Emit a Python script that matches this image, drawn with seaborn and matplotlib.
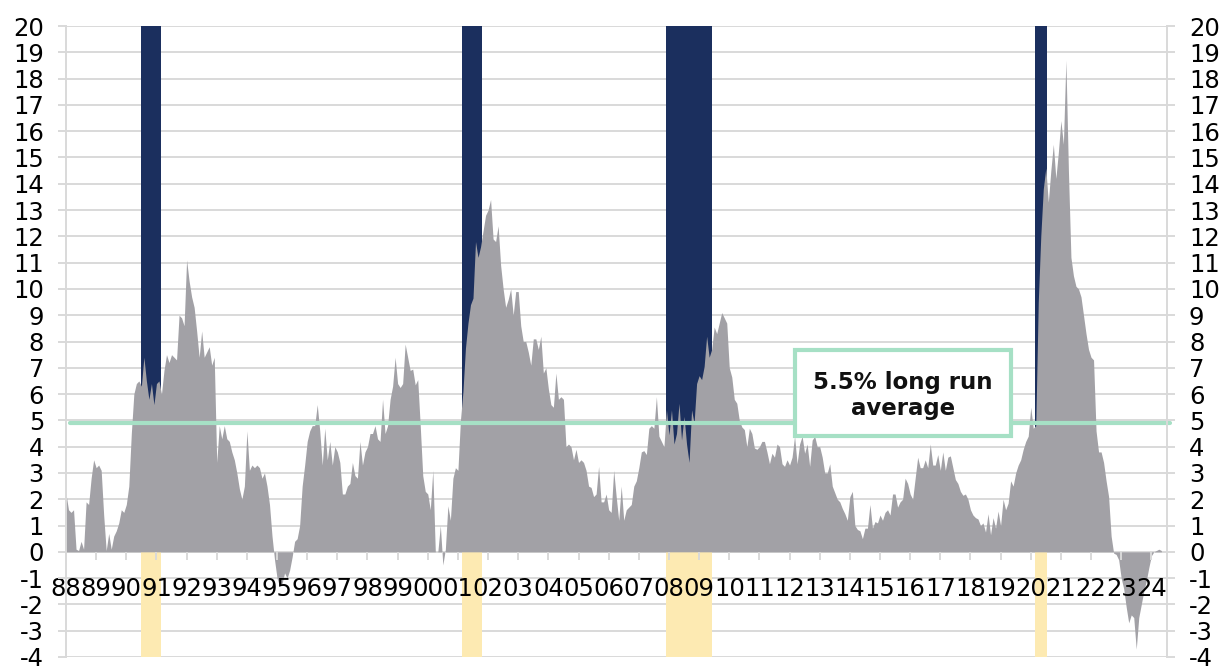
import numpy as np
import pandas as pd
import matplotlib
matplotlib.use("Agg")
import matplotlib.pyplot as plt
from matplotlib.patches import Rectangle
import seaborn as sns

# monthly growth (%), Jan 1988 onwards
growth_1988_1995 = [
    2.2, 1.6, 1.5, 1.6, 0.1, 0.05, 0.4, 0.1, 1.9, 1.8, 2.8, 3.5,
    3.2, 3.3, 3.1, 1.4, 0.05, 0.7, 0.1, 0.6, 0.8, 1.1, 1.6, 1.5,
    1.8, 2.5, 4.5, 6.0, 6.4, 6.5, 6.3, 7.4, 6.5, 5.8, 6.4, 5.6,
    6.4, 6.5, 6.0, 6.9, 7.5, 7.2, 7.5, 7.4, 7.3, 9.0, 8.9, 8.6,
    11.1, 10.3, 9.7, 9.3, 8.4, 7.4, 8.4, 7.4, 7.6, 7.8, 7.1, 7.4,
    3.4, 4.8, 4.3, 4.8, 4.3, 4.2, 3.8, 3.5, 3.0, 2.4, 2.0, 2.5,
    4.6, 3.1, 3.3, 3.2, 3.3, 3.2, 2.8, 3.0, 2.5, 1.8, 0.6, -0.3,
    -1.0, -1.3, -1.2, -0.8, -1.0, -0.7, -0.2, 0.4, 0.5, 1.0, 2.5, 3.3,
]
growth_1996_2003 = [
    4.2, 4.6, 4.8, 4.8, 5.6, 4.6, 3.3, 4.7, 3.5, 4.2, 3.3, 4.0,
    3.8, 3.4, 2.2, 2.2, 2.5, 2.6, 3.4, 2.9, 2.8, 4.2, 3.3, 3.8,
    4.0, 4.5, 4.5, 4.8, 4.3, 4.2, 5.8, 4.5, 4.8, 5.8, 6.3, 7.4,
    6.4, 6.25, 6.4, 7.9, 7.4, 6.9, 6.95, 6.35, 6.55, 4.8, 2.9, 2.3,
    2.2, 1.6, 3.1, 0.0, 0.0, 1.0, -0.5, 0.1, 1.75, 1.2, 2.8, 3.2,
    3.1, 5.0, 6.1, 7.75, 8.7, 9.4, 9.65, 11.8, 11.2, 11.6, 12.2, 12.8,
    13.0, 13.4, 11.9, 11.8, 12.4, 10.9, 10.0, 9.3, 9.6, 10.0, 9.0, 9.9,
    9.9, 8.6, 8.0, 8.0, 7.6, 7.1, 8.1, 8.1, 7.7, 8.2, 6.8, 7.0,
]
growth_2004_2011 = [
    6.2, 5.6, 5.5, 6.8, 5.8, 5.9, 5.8, 4.0, 4.1, 4.0, 3.5, 3.9,
    3.4, 3.5, 3.4, 3.1, 2.5, 2.45, 2.1, 2.2, 3.25, 1.9, 1.9, 2.2,
    1.6, 1.5, 3.1, 2.1, 1.2, 2.5, 1.2, 1.6, 1.7, 1.8, 2.5, 2.7,
    3.2, 3.8, 3.85, 3.7, 4.7, 4.8, 4.7, 5.9, 4.4, 4.2, 4.0, 5.4,
    4.45, 5.4, 4.1, 4.5, 5.65, 4.25, 5.15, 4.1, 3.4, 5.4, 4.9, 6.4,
    6.7, 6.55, 7.05, 8.2, 7.4, 7.7, 8.55, 8.3, 8.7, 9.1, 8.9, 8.7,
    7.0, 6.65, 5.8, 5.65, 5.0, 4.75, 4.65, 4.0, 4.7, 4.5, 3.95, 3.9,
    4.0, 4.2, 4.2, 3.8, 3.35, 3.75, 3.6, 4.1, 4.0, 3.35, 3.25, 3.5,
]
growth_2012_2019 = [
    3.3, 3.6, 4.4, 3.35, 4.1, 4.4, 3.75, 4.1, 3.25, 4.25, 4.4, 4.0,
    4.0, 3.6, 3.0, 3.0, 3.35, 2.5, 2.25, 2.0, 1.9, 1.65, 1.45, 1.2,
    2.1, 2.3, 1.0, 0.85, 0.8, 0.5, 0.9, 0.9, 1.8, 0.9, 1.15, 1.1,
    1.4, 1.2, 1.5, 1.6, 1.4, 2.2, 2.2, 1.7, 1.9, 2.0, 2.8, 2.6,
    2.2, 2.0, 2.8, 3.6, 3.2, 3.2, 3.5, 3.2, 4.1, 3.3, 3.3, 3.7,
    3.1, 3.8, 3.1, 3.6, 3.65, 3.2, 2.75, 2.6, 2.3, 2.15, 2.2, 2.0,
    1.6, 1.4, 1.3, 1.25, 1.0, 1.1, 0.75, 1.45, 0.65, 1.3, 0.9, 1.55,
    1.0, 2.0, 1.6, 1.85, 2.7, 2.5, 3.0, 3.3, 3.5, 3.9, 4.2, 4.4,
]
growth_2020_2024 = [
    5.5, 4.7, 4.8, 9.5, 12.0, 13.8, 14.6, 13.3, 14.5, 15.5, 14.2, 15.2,
    16.4, 15.5, 18.7, 14.5, 11.2, 10.5, 10.1, 10.0, 9.7, 9.0, 8.3, 7.7,
    7.4, 7.3, 4.6, 3.8, 3.8, 3.4, 2.7, 2.1, 0.6, -0.05, -0.1, -0.3,
    -1.0, -1.4, -2.1, -2.7, -2.4, -2.5, -3.7, -2.5, -2.0, -1.5, -1.1, -0.6,
    -0.15, 0.0, 0.05, 0.1, 0.05,
]

# recession shading (fractional years)
recession_start = [1990.49, 2001.13, 2007.90, 2020.14]
recession_end = [1991.16, 2001.80, 2009.43, 2020.54]

long_run_avg = 4.9
tick_years = list(range(1988, 2025))
tick_labels = [str(y)[-2:] for y in tick_years]
y_ticks = list(range(-4, 21))

GRAY = "#a2a1a6"
NAVY = "#1b2f5e"
YELLOW = "#fdeab2"
MINT = "#a6e0c5"
GRID = "#d9d9d9"

values = growth_1988_1995 + growth_1996_2003 + growth_2004_2011 + growth_2012_2019 + growth_2020_2024
df = pd.DataFrame({
    "date": 1988 + np.arange(len(values)) / 12.0,
    "growth": values,
})

sns.set_style("white")
plt.rcParams['font.family'] = ['DejaVu Sans']
plt.rcParams['axes.unicode_minus'] = False

fig, ax = plt.subplots(figsize=(12.22, 6.66), dpi=100)
fig.subplots_adjust(left=66 / 1222, right=1167 / 1222, bottom=9 / 666, top=640 / 666)
# tick labels must sit on top of the shading
ax.set_axisbelow(False)

# horizontal gridlines drawn by hand so they sit under the bars and the area
for v in y_ticks:
    ax.axhline(v, color=GRID, lw=1.4, zorder=0.3)

widths = np.subtract(recession_end, recession_start)
ax.bar(recession_start, 20, width=widths, align="edge", color=NAVY, linewidth=0, zorder=1)
ax.bar(recession_start, -4, width=widths, align="edge", color=YELLOW, linewidth=0, zorder=1)

ax.fill_between(df["date"], df["growth"], 0, color=GRAY, linewidth=0, zorder=1.5)

ax.axhline(long_run_avg, xmin=0.004, xmax=1.003, color=MINT, lw=3, zorder=2, clip_on=False)

# annotation box
box = Rectangle((2012.18, 4.41), 7.16, 3.27, facecolor="white", edgecolor=MINT, lw=3, zorder=3)
ax.add_patch(box)
ax.text(2015.77, 5.95, "5.5% long run\naverage", ha="center", va="center", fontsize=16.5,
        fontweight="bold", color="#111111", zorder=4)

ax.set_xlim(1988, 2024.52)
ax.set_ylim(-4, 20)
ax.set_yticks(y_ticks)
ax.set_xticks(tick_years)
ax.set_xticklabels(tick_labels)
ax.grid(False)

for side in ["left", "right"]:
    ax.spines[side].set_color(GRID)
    ax.spines[side].set_linewidth(1.4)
ax.spines["top"].set_visible(False)
ax.spines["bottom"].set_position(("data", 0))
ax.spines["bottom"].set_visible(False)

ax.tick_params(axis="y", which="both", left=True, right=True, labelleft=True, labelright=True,
               length=5.8, width=1.4, color=GRID, pad=10, labelsize=17.5, labelcolor="black")
ax.tick_params(axis="x", bottom=True, length=5.8, width=1.4, color=GRID, pad=12,
               labelsize=17.5, labelcolor="black")

fig.savefig("out.png", dpi=100)
